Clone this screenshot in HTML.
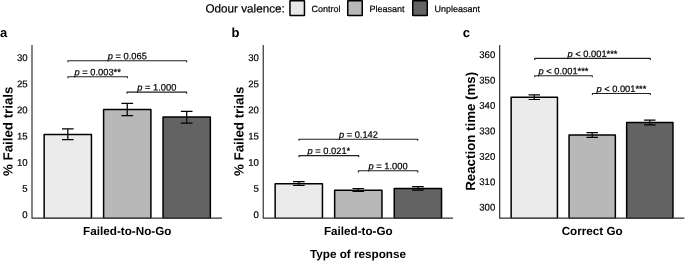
<!DOCTYPE html>
<html><head><meta charset="utf-8"><style>
html,body{margin:0;padding:0;background:#fff;}
svg{display:block;font-family:"Liberation Sans",sans-serif;filter:grayscale(1);}
.p{font-size:9.3px;fill:#000;stroke:#000;stroke-width:0.2px;}
.t{font-size:9.6px;fill:#000;stroke:#000;stroke-width:0.2px;}
.ax{font-size:11.7px;font-weight:bold;fill:#000;}
.pl{font-size:13px;font-weight:bold;fill:#000;}
.lg{font-size:9px;fill:#000;stroke:#000;stroke-width:0.2px;}
</style></head><body>
<svg width="685" height="261" viewBox="0 0 685 261">
<rect width="685" height="261" fill="#fff"/>

<text transform="translate(205.5,12.4) rotate(0.03)" style="font-size:11.7px;fill:#000;stroke:#000;stroke-width:0.2px">Odour valence:</text>
<rect x="289.95" y="0.8" width="14.5" height="14.7" rx="0.3" fill="#e8e8e8" stroke="#000" stroke-width="1.5" stroke-linejoin="round"/>
<text transform="translate(311.6,12.1) rotate(0.03)" class="lg">Control</text>
<rect x="347.75" y="0.8" width="14.5" height="14.7" rx="0.3" fill="#b8b8b8" stroke="#000" stroke-width="1.5" stroke-linejoin="round"/>
<text transform="translate(369.4,12.1) rotate(0.03)" class="lg">Pleasant</text>
<rect x="412.75" y="0.8" width="14.5" height="14.7" rx="0.3" fill="#636363" stroke="#000" stroke-width="1.5" stroke-linejoin="round"/>
<text transform="translate(434.5,12.1) rotate(0.03)" class="lg">Unpleasant</text>
<text transform="translate(-0.1,37) rotate(0.03)" class="pl">a</text>
<text transform="translate(231.6,37) rotate(0.03)" class="pl">b</text>
<text transform="translate(462.8,37) rotate(0.03)" class="pl">c</text>
<rect x="44.15" y="134.4" width="47.30" height="84.35" fill="#ebebeb"/><path d="M44.15 218.15V134.4H91.45V218.15" fill="none" stroke="#000" stroke-width="1.5" stroke-linejoin="round"/><path d="M44.15 218.25H91.45" fill="none" stroke="#000" stroke-opacity="0.35" stroke-width="1.4"/>
<rect x="103.60" y="109.5" width="47.30" height="109.25" fill="#b8b8b8"/><path d="M103.60 218.15V109.5H150.90V218.15" fill="none" stroke="#000" stroke-width="1.5" stroke-linejoin="round"/><path d="M103.60 218.25H150.90" fill="none" stroke="#000" stroke-opacity="0.35" stroke-width="1.4"/>
<rect x="163.05" y="117.1" width="47.30" height="101.65" fill="#636363"/><path d="M163.05 218.15V117.1H210.35V218.15" fill="none" stroke="#000" stroke-width="1.5" stroke-linejoin="round"/><path d="M163.05 218.25H210.35" fill="none" stroke="#000" stroke-opacity="0.35" stroke-width="1.4"/>
<path d="M61.970275 128.9H73.629725M61.970275 139.6H73.629725" stroke="#000" stroke-width="1.15" fill="none"/><path d="M67.8 128.9V139.6" stroke="#111" stroke-width="1.35" fill="none"/>
<path d="M121.420275 103.4H133.079725M121.420275 115.6H133.079725" stroke="#000" stroke-width="1.15" fill="none"/><path d="M127.25 103.4V115.6" stroke="#111" stroke-width="1.35" fill="none"/>
<path d="M180.870275 111.3H192.52972499999998M180.870275 123.1H192.52972499999998" stroke="#000" stroke-width="1.15" fill="none"/><path d="M186.7 111.3V123.1" stroke="#111" stroke-width="1.35" fill="none"/>
<path d="M32.0 45V218.15H222.0" stroke="#333" stroke-width="1.2" stroke-linejoin="round" fill="none"/>
<text transform="translate(27.6,218.05) rotate(0.03) scale(1.0,1.0)" text-anchor="end" class="t">0</text>
<text transform="translate(27.6,191.87) rotate(0.03) scale(1.0,1.0)" text-anchor="end" class="t">5</text>
<text transform="translate(27.6,165.69000000000003) rotate(0.03) scale(1.0,1.0)" text-anchor="end" class="t">10</text>
<text transform="translate(27.6,139.51000000000002) rotate(0.03) scale(1.0,1.0)" text-anchor="end" class="t">15</text>
<text transform="translate(27.6,113.33000000000001) rotate(0.03) scale(1.0,1.0)" text-anchor="end" class="t">20</text>
<text transform="translate(27.6,87.15) rotate(0.03) scale(1.0,1.0)" text-anchor="end" class="t">25</text>
<text transform="translate(27.6,60.97000000000002) rotate(0.03) scale(1.0,1.0)" text-anchor="end" class="t">30</text>
<text transform="translate(12.5,131.3) rotate(-89.97)" text-anchor="middle" class="ax" style="font-size:13.3px">% Failed trials</text>
<text transform="translate(127.25,235.0) rotate(0.03)" text-anchor="middle" class="ax">Failed-to-No-Go</text>
<path d="M67.9 62.35V60.75H186.7V62.35" stroke="#222" stroke-width="1.1" stroke-linejoin="round" fill="none"/><text transform="translate(127.3,59.25) rotate(0.03) scale(1.0,1.0)" text-anchor="middle" class="p"><tspan font-style="italic">p</tspan> = 0.065</text>
<path d="M67.9 78.3V76.7H127.5V78.3" stroke="#222" stroke-width="1.1" stroke-linejoin="round" fill="none"/><text transform="translate(97.7,75.2) rotate(0.03) scale(1.0,1.0)" text-anchor="middle" class="p"><tspan font-style="italic">p</tspan> = 0.003**</text>
<path d="M127 93.69999999999999V92.1H186.7V93.69999999999999" stroke="#222" stroke-width="1.1" stroke-linejoin="round" fill="none"/><text transform="translate(156.85,90.6) rotate(0.03) scale(1.0,1.0)" text-anchor="middle" class="p"><tspan font-style="italic">p</tspan> = 1.000</text>
<rect x="275.15" y="183.8" width="47.30" height="34.95" fill="#ebebeb"/><path d="M275.15 218.15V183.8H322.45V218.15" fill="none" stroke="#000" stroke-width="1.5" stroke-linejoin="round"/><path d="M275.15 218.25H322.45" fill="none" stroke="#000" stroke-opacity="0.35" stroke-width="1.4"/>
<rect x="334.65" y="190.3" width="47.30" height="28.45" fill="#b8b8b8"/><path d="M334.65 218.15V190.3H381.95V218.15" fill="none" stroke="#000" stroke-width="1.5" stroke-linejoin="round"/><path d="M334.65 218.25H381.95" fill="none" stroke="#000" stroke-opacity="0.35" stroke-width="1.4"/>
<rect x="394.25" y="188.6" width="47.30" height="30.15" fill="#636363"/><path d="M394.25 218.15V188.6H441.55V218.15" fill="none" stroke="#000" stroke-width="1.5" stroke-linejoin="round"/><path d="M394.25 218.25H441.55" fill="none" stroke="#000" stroke-opacity="0.35" stroke-width="1.4"/>
<path d="M292.970275 181.6H304.629725M292.970275 185.45H304.629725" stroke="#000" stroke-width="1.15" fill="none"/><path d="M298.8 181.6V185.45" stroke="#111" stroke-width="1.35" fill="none"/>
<path d="M352.470275 188.5H364.129725M352.470275 191.5H364.129725" stroke="#000" stroke-width="1.15" fill="none"/><path d="M358.3 188.5V191.5" stroke="#111" stroke-width="1.35" fill="none"/>
<path d="M412.070275 186.6H423.729725M412.070275 190.1H423.729725" stroke="#000" stroke-width="1.15" fill="none"/><path d="M417.9 186.6V190.1" stroke="#111" stroke-width="1.35" fill="none"/>
<path d="M263.25 45V218.15H453.1" stroke="#333" stroke-width="1.2" stroke-linejoin="round" fill="none"/>
<text transform="translate(258.85,218.05) rotate(0.03) scale(1.0,1.0)" text-anchor="end" class="t">0</text>
<text transform="translate(258.85,191.87) rotate(0.03) scale(1.0,1.0)" text-anchor="end" class="t">5</text>
<text transform="translate(258.85,165.69000000000003) rotate(0.03) scale(1.0,1.0)" text-anchor="end" class="t">10</text>
<text transform="translate(258.85,139.51000000000002) rotate(0.03) scale(1.0,1.0)" text-anchor="end" class="t">15</text>
<text transform="translate(258.85,113.33000000000001) rotate(0.03) scale(1.0,1.0)" text-anchor="end" class="t">20</text>
<text transform="translate(258.85,87.15) rotate(0.03) scale(1.0,1.0)" text-anchor="end" class="t">25</text>
<text transform="translate(258.85,60.97000000000002) rotate(0.03) scale(1.0,1.0)" text-anchor="end" class="t">30</text>
<text transform="translate(243.6,131.3) rotate(-89.97)" text-anchor="middle" class="ax" style="font-size:13.3px">% Failed trials</text>
<text transform="translate(358.3,235.0) rotate(0.03)" text-anchor="middle" class="ax">Failed-to-Go</text>
<path d="M299 140.79999999999998V139.2H417.8V140.79999999999998" stroke="#222" stroke-width="1.1" stroke-linejoin="round" fill="none"/><text transform="translate(358.4,137.7) rotate(0.03) scale(1.0,1.0)" text-anchor="middle" class="p"><tspan font-style="italic">p</tspan> = 0.142</text>
<path d="M299 157.2V155.6H358.7V157.2" stroke="#222" stroke-width="1.1" stroke-linejoin="round" fill="none"/><text transform="translate(328.85,154.1) rotate(0.03) scale(1.0,1.0)" text-anchor="middle" class="p"><tspan font-style="italic">p</tspan> = 0.021*</text>
<path d="M358.4 172.4V170.8H417.8V172.4" stroke="#222" stroke-width="1.1" stroke-linejoin="round" fill="none"/><text transform="translate(388.1,169.3) rotate(0.03) scale(1.0,1.0)" text-anchor="middle" class="p"><tspan font-style="italic">p</tspan> = 1.000</text>
<rect x="511.15" y="97.2" width="46.30" height="121.55" fill="#ebebeb"/><path d="M511.15 218.15V97.2H557.45V218.15" fill="none" stroke="#000" stroke-width="1.5" stroke-linejoin="round"/><path d="M511.15 218.25H557.45" fill="none" stroke="#000" stroke-opacity="0.35" stroke-width="1.4"/>
<rect x="569.05" y="135.0" width="46.30" height="83.75" fill="#b8b8b8"/><path d="M569.05 218.15V135.0H615.35V218.15" fill="none" stroke="#000" stroke-width="1.5" stroke-linejoin="round"/><path d="M569.05 218.25H615.35" fill="none" stroke="#000" stroke-opacity="0.35" stroke-width="1.4"/>
<rect x="626.65" y="122.5" width="46.30" height="96.25" fill="#636363"/><path d="M626.65 218.15V122.5H672.95V218.15" fill="none" stroke="#000" stroke-width="1.5" stroke-linejoin="round"/><path d="M626.65 218.25H672.95" fill="none" stroke="#000" stroke-opacity="0.35" stroke-width="1.4"/>
<path d="M528.593525 94.9H540.0064749999999M528.593525 99.5H540.0064749999999" stroke="#000" stroke-width="1.15" fill="none"/><path d="M534.3 94.9V99.5" stroke="#111" stroke-width="1.35" fill="none"/>
<path d="M586.4935250000001 132.6H597.906475M586.4935250000001 137.3H597.906475" stroke="#000" stroke-width="1.15" fill="none"/><path d="M592.2 132.6V137.3" stroke="#111" stroke-width="1.35" fill="none"/>
<path d="M644.093525 120.1H655.5064749999999M644.093525 124.9H655.5064749999999" stroke="#000" stroke-width="1.15" fill="none"/><path d="M649.8 120.1V124.9" stroke="#111" stroke-width="1.35" fill="none"/>
<path d="M499.67 45V218.15H684.4" stroke="#333" stroke-width="1.2" stroke-linejoin="round" fill="none"/>
<text transform="translate(495.27000000000004,210.55) rotate(0.03) scale(1.0,1.0)" text-anchor="end" class="t">300</text>
<text transform="translate(495.27000000000004,185.13000000000002) rotate(0.03) scale(1.0,1.0)" text-anchor="end" class="t">310</text>
<text transform="translate(495.27000000000004,159.71) rotate(0.03) scale(1.0,1.0)" text-anchor="end" class="t">320</text>
<text transform="translate(495.27000000000004,134.29) rotate(0.03) scale(1.0,1.0)" text-anchor="end" class="t">330</text>
<text transform="translate(495.27000000000004,108.87) rotate(0.03) scale(1.0,1.0)" text-anchor="end" class="t">340</text>
<text transform="translate(495.27000000000004,83.45) rotate(0.03) scale(1.0,1.0)" text-anchor="end" class="t">350</text>
<text transform="translate(495.27000000000004,58.029999999999994) rotate(0.03) scale(1.0,1.0)" text-anchor="end" class="t">360</text>
<text transform="translate(475.1,131.3) rotate(-89.97)" text-anchor="middle" class="ax" style="font-size:13.3px">Reaction time (ms)</text>
<text transform="translate(592.2,235.0) rotate(0.03)" text-anchor="middle" class="ax">Correct Go</text>
<path d="M534.7 60.0V58.4H650.3V60.0" stroke="#222" stroke-width="1.1" stroke-linejoin="round" fill="none"/><text transform="translate(592.5,56.9) rotate(0.03) scale(1.0,1.0)" text-anchor="middle" class="p"><tspan font-style="italic">p</tspan> &lt; 0.001***</text>
<path d="M534.7 77.3V75.7H592.3V77.3" stroke="#222" stroke-width="1.1" stroke-linejoin="round" fill="none"/><text transform="translate(563.5,74.2) rotate(0.03) scale(1.0,1.0)" text-anchor="middle" class="p"><tspan font-style="italic">p</tspan> &lt; 0.001***</text>
<path d="M592.4 95.1V93.5H650.3V95.1" stroke="#222" stroke-width="1.1" stroke-linejoin="round" fill="none"/><text transform="translate(621.3499999999999,92.0) rotate(0.03) scale(1.0,1.0)" text-anchor="middle" class="p"><tspan font-style="italic">p</tspan> &lt; 0.001***</text>
<text transform="translate(358,258.1) rotate(0.03)" text-anchor="middle" class="ax">Type of response</text>
</svg></body></html>
